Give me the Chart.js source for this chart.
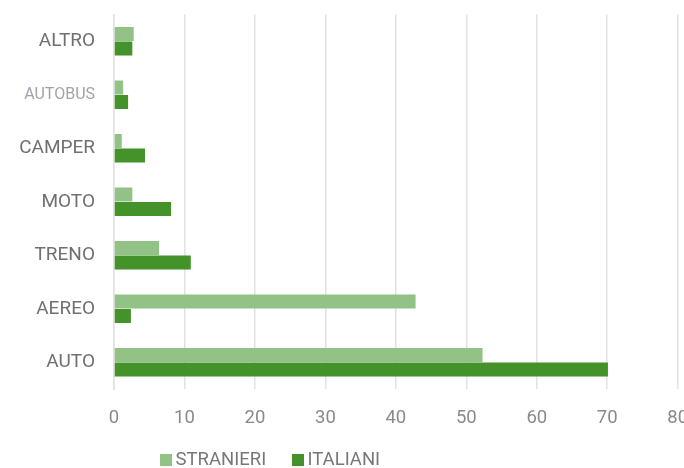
<!DOCTYPE html>
<html>
<head>
<meta charset="utf-8">
<script src="https://cdn.jsdelivr.net/npm/chart.js@4"></script>
<style>
  html, body { margin: 0; padding: 0; background: #fff; overflow: hidden; }
  #wrap { width: 700px; height: 468px; position: relative; }
  #legend { position: absolute; left: 0; top: 0; width: 700px; height: 468px; pointer-events: none;
            font-family: Roboto, "Liberation Sans", sans-serif; font-size: 18.5px; color: #777; }
  .sw { position: absolute; top: 454px; width: 12px; height: 12px; }
  .lb { position: absolute; top: 449px; line-height: 20px; white-space: nowrap; }
</style>
</head>
<body>
<div id="wrap"><canvas id="c"></canvas><div id="legend"></div></div>
<script>
// Mezzo di trasporto utilizzato (%)
const categories = ['ALTRO', 'AUTOBUS', 'CAMPER', 'MOTO', 'TRENO', 'AEREO', 'AUTO'];
const stranieri = [2.8, 1.3, 1.1, 2.6, 6.4, 42.8, 52.3];
const italiani  = [2.6, 2.0, 4.4, 8.1, 10.9, 2.4, 70.1];
const xTicks = [0, 10, 20, 30, 40, 50, 60, 70, 80];
const seriesNames = ['STRANIERI', 'ITALIANI'];

const LIGHT = '#93c286';
const DARK = '#43922a';
const FONT = 'Roboto, "Liberation Sans", sans-serif';

const chart = new Chart(document.getElementById('c'), {
  type: 'bar',
  data: {
    labels: categories,
    datasets: [
      { label: seriesNames[0], data: stranieri, backgroundColor: LIGHT,
        barPercentage: 0.96, categoryPercentage: 0.54 },
      { label: seriesNames[1], data: italiani, backgroundColor: DARK,
        barPercentage: 0.96, categoryPercentage: 0.54 }
    ]
  },
  options: {
    indexAxis: 'y',
    responsive: true,
    maintainAspectRatio: false,
    animation: false,
    layout: { padding: { top: 14.5, right: 22.3, left: 0, bottom: 0 } },
    scales: {
      x: {
        min: 0, max: 80,
        afterBuildTicks(scale) { scale.ticks = xTicks.map(v => ({ value: v })); },
        grid: { color: '#e2e2e2', lineWidth: 1.5, drawTicks: false },
        border: { display: false },
        ticks: { color: '#8a8a8a', font: { family: FONT, size: 18.5 }, padding: 18 },
        afterFit(scale) {
          scale.height = 79;
          scale.paddingLeft = 0; scale.paddingRight = 0;
        }
      },
      y: {
        grid: { display: false, drawTicks: false },
        border: { display: true, color: '#e2e2e2', width: 1.5 },
        ticks: {
          padding: 19,
          color: (ctx) => ctx.index === 1 ? '#a79fab' : '#707070',
          font: (ctx) => ({ family: FONT, size: ctx.index === 1 ? 16 : 19 })
        },
        afterFit(scale) {
          scale.width = 114;
          scale.paddingTop = 0; scale.paddingBottom = 0;
        }
      }
    },
    plugins: {
      legend: { display: false },
      tooltip: { enabled: false }
    }
  }
});

// Legend built from the dataset names and colours
const legendEl = document.getElementById('legend');
const legendX = [160, 292];
chart.data.datasets.forEach((ds, i) => {
  const sw = document.createElement('div');
  sw.className = 'sw';
  sw.style.left = legendX[i] + 'px';
  sw.style.background = ds.backgroundColor;
  const lb = document.createElement('div');
  lb.className = 'lb';
  lb.style.left = (legendX[i] + 15.5) + 'px';
  lb.textContent = ds.label;
  legendEl.appendChild(sw);
  legendEl.appendChild(lb);
});
</script>
</body>
</html>
